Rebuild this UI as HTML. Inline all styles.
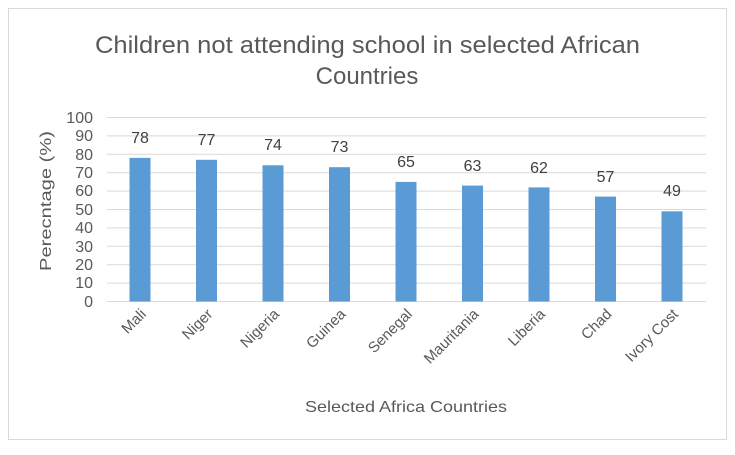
<!DOCTYPE html>
<html><head><meta charset="utf-8"><style>body{margin:0;background:#fff}</style></head><body>
<svg width="735" height="450" xmlns="http://www.w3.org/2000/svg" font-family="Liberation Sans, sans-serif">
<rect x="0" y="0" width="735" height="450" fill="#fff"/>
<rect x="8.5" y="8.5" width="718" height="431" fill="#fff" stroke="#d9d9d9"/>
<text x="95" y="53" font-size="24" fill="#595959" textLength="545" lengthAdjust="spacingAndGlyphs">Children not attending school in selected African</text>
<text x="367" y="84" font-size="24" fill="#595959" text-anchor="middle">Countries</text>
<g stroke="#d9d9d9" stroke-width="1">
<line x1="107" x2="706" y1="117.5" y2="117.5"/><line x1="107" x2="706" y1="135.9" y2="135.9"/>
<line x1="107" x2="706" y1="154.3" y2="154.3"/><line x1="107" x2="706" y1="172.7" y2="172.7"/>
<line x1="107" x2="706" y1="191.1" y2="191.1"/><line x1="107" x2="706" y1="209.5" y2="209.5"/>
<line x1="107" x2="706" y1="227.9" y2="227.9"/><line x1="107" x2="706" y1="246.3" y2="246.3"/>
<line x1="107" x2="706" y1="264.7" y2="264.7"/><line x1="107" x2="706" y1="283.1" y2="283.1"/>
<line x1="107" x2="706" y1="301.5" y2="301.5"/>
</g>
<g font-size="16" fill="#595959" text-anchor="end">
<text x="93" y="123">100</text><text x="93" y="141">90</text><text x="93" y="160">80</text><text x="93" y="178">70</text><text x="93" y="196">60</text><text x="93" y="215">50</text><text x="93" y="233">40</text><text x="93" y="252">30</text><text x="93" y="270">20</text><text x="93" y="288">10</text><text x="93" y="307">0</text>
</g>
<text transform="translate(51,271) rotate(-90)" font-size="16" fill="#595959" textLength="140" lengthAdjust="spacingAndGlyphs">Perecntage (%)</text>
<g fill="#5b9bd5">
<rect x="129.5" y="157.9" width="21" height="143.6"/>
<rect x="196" y="159.8" width="21" height="141.7"/>
<rect x="262.5" y="165.3" width="21" height="136.2"/>
<rect x="329" y="167.2" width="21" height="134.3"/>
<rect x="395.5" y="181.9" width="21" height="119.6"/>
<rect x="462" y="185.6" width="21" height="115.9"/>
<rect x="528.5" y="187.4" width="21" height="114.1"/>
<rect x="595" y="196.6" width="21" height="104.9"/>
<rect x="661.5" y="211.3" width="21" height="90.2"/>
</g>
<g font-size="16" fill="#404040" text-anchor="middle">
<text x="140" y="143">78</text><text x="206.5" y="145">77</text><text x="273" y="150">74</text><text x="339.5" y="152">73</text><text x="406" y="167">65</text><text x="472.5" y="171">63</text><text x="539" y="173">62</text><text x="605.5" y="182">57</text><text x="672" y="196">49</text>
</g>
<g font-size="15" fill="#595959" text-anchor="end">
<text transform="translate(147,315) rotate(-45)">Mali</text>
<text transform="translate(213.5,315) rotate(-45)">Niger</text>
<text transform="translate(280,315) rotate(-45)">Nigeria</text>
<text transform="translate(346.5,315) rotate(-45)">Guinea</text>
<text transform="translate(413,315) rotate(-45)">Senegal</text>
<text transform="translate(479.5,315) rotate(-45)">Mauritania</text>
<text transform="translate(546,315) rotate(-45)">Liberia</text>
<text transform="translate(612.5,315) rotate(-45)">Chad</text>
<text transform="translate(679,315) rotate(-45)">Ivory Cost</text>
</g>
<text x="305" y="412" font-size="16" fill="#595959" textLength="202" lengthAdjust="spacingAndGlyphs">Selected Africa Countries</text>
</svg>
</body></html>
